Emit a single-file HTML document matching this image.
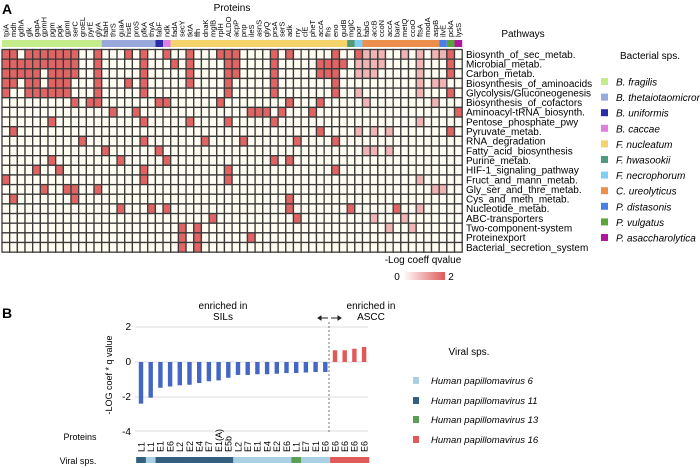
<!DOCTYPE html>
<html><head><meta charset="utf-8"><style>
html,body{margin:0;padding:0;background:#fff;}
svg{display:block;font-family:"Liberation Sans",Arial,sans-serif;}
</style></head><body>
<svg id="s" width="700" height="468" viewBox="0 0 700 468" xmlns="http://www.w3.org/2000/svg">
<defs><linearGradient id="g" x1="0" x2="1"><stop offset="0" stop-color="#fff"/><stop offset="1" stop-color="#e05a5a"/></linearGradient></defs>
<text x="2" y="14" font-size="14" font-weight="bold">A</text>
<text x="232" y="11" font-size="10" text-anchor="middle">Proteins</text>
<g id="collab" font-size="7.5"></g>
<g id="spbar"></g>
<g id="grid"></g>
<text x="523" y="37" font-size="10" text-anchor="middle">Pathways</text>
<g id="pw" font-size="10"></g>
<text x="650" y="59" font-size="10" text-anchor="middle">Bacterial sps.</text>
<g id="bleg" font-size="10" font-style="italic"></g>
<text x="423" y="263" font-size="10" text-anchor="middle">-Log coeff qvalue</text>
<text x="397" y="280" font-size="10" text-anchor="middle">0</text>
<rect x="403" y="272" width="42" height="8" fill="url(#g)"/>
<text x="451" y="280" font-size="10" text-anchor="middle">2</text>

<text x="2" y="318" font-size="14" font-weight="bold">B</text>
<text x="223" y="309" font-size="10" text-anchor="middle">enriched in</text>
<text x="223" y="320" font-size="10" text-anchor="middle">SILs</text>
<text x="371" y="309" font-size="10" text-anchor="middle">enriched in</text>
<text x="371" y="320" font-size="10" text-anchor="middle">ASCC</text>
<g stroke="#222" stroke-width="1" fill="#222">
<line x1="320" y1="318" x2="328" y2="318"/><path d="M318 318 l3 -2 v4z"/>
<line x1="331" y1="318" x2="339" y2="318"/><path d="M341 318 l-3 -2 v4z"/>
</g>
<g stroke="#dcdcdc" stroke-width="1">
<line x1="135" y1="327" x2="368" y2="327"/><line x1="135" y1="362" x2="368" y2="362"/>
<line x1="135" y1="397" x2="368" y2="397"/><line x1="135" y1="431" x2="368" y2="431"/>
</g>
<g font-size="10" text-anchor="end">
<text x="131" y="330">2</text><text x="131" y="365">0</text><text x="131" y="400">-2</text><text x="131" y="435">-4</text>
</g>
<text transform="translate(112,375) rotate(-90)" font-size="9" text-anchor="middle">-LOG coef * q value</text>
<line x1="329" y1="322" x2="329" y2="433" stroke="#555" stroke-width="0.8" stroke-dasharray="2,2"/>
<g id="bars"></g>
<g id="blab" font-size="9"></g>
<text x="80" y="440" font-size="9" text-anchor="middle">Proteins</text>
<text x="78" y="464" font-size="9" text-anchor="middle">Viral sps.</text>
<g id="vbar"></g>
<text x="469" y="355" font-size="10" text-anchor="middle">Viral sps.</text>
<g font-size="9.5" font-style="italic">
<rect x="413" y="377" width="6" height="7" fill="#a9d0e3"/><text x="431" y="384">Human papillomavirus 6</text>
<rect x="413" y="397" width="6" height="7" fill="#355f7e"/><text x="431" y="404">Human papillomavirus 11</text>
<rect x="413" y="416" width="6" height="7" fill="#5b9e55"/><text x="431" y="423">Human papillomavirus 13</text>
<rect x="413" y="436" width="6" height="7" fill="#e05a5a"/><text x="431" y="443">Human papillomavirus 16</text>
</g>
</svg>
<script>
var NS="http://www.w3.org/2000/svg";
function el(p,t,a,txt){var e=document.createElementNS(NS,t);for(var k in a)e.setAttribute(k,a[k]);if(txt!=null)e.textContent=txt;document.getElementById(p).appendChild(e);return e;}
var x0=2,cw=7.67,y0=49.5,rh=9.65,nc=60,nr=21;
var cols="tpiA mdh gdhA glk gapA gpmH pgm pgk gpmI serC groEL pyrE glyA fabH thrS guaA hisE proS pfkA thyA fabF ndk fadA secY tktA ffh dnaK mglB rplH ALDO acpP pnp ileS asnS glyQ prsA serS adk rry clE pheT accA fhs eno gudB mglC por fabG accB ccoN accA barA metQ ccoO ftsA modA aspB ilvE pckA lysS".split(" ");
cols.forEach(function(c,i){var cx=x0+cw*i+cw/2+2.5;el("collab","text",{transform:"translate("+cx+",37) rotate(-90)"},c);});
var sp=[[1,13,"#c4ec8a"],[14,20,"#99a9dc"],[21,21,"#2c2caa"],[22,22,"#e07fe0"],[23,45,"#f3d36a"],[46,46,"#4f9a7e"],[47,47,"#7fcff5"],[48,57,"#ec8f4c"],[58,58,"#4a7fe8"],[59,59,"#5ba43a"],[60,60,"#b0169e"]];
sp.forEach(function(s){el("spbar","rect",{x:x0+cw*(s[0]-1),y:40,width:cw*(s[1]-s[0]+1),height:7,fill:s[2]});});
var M=[
[1,2,4,5,6,7,8,9,10,13,17,19,22,25,29,30,31,36,38,44,47,-48,-49,-50,-53,-55,-57,-58,59],
[1,2,3,4,5,6,7,8,9,10,13,19,23,25,30,31,36,42,43,44,45,-47,-48,-49,-50,-55,59],
[1,2,3,4,5,7,8,9,10,13,19,25,30,31,36,42,43,44,-47,-48,-49,-55,59],
[1,2,4,5,7,8,9,13,17,19,25,30,36,44,-55,-57,-58],
[1,4,5,6,7,8,9,13,19,30,36,44,-47,-55,59],
[10,12,13,21,22,29,38,42,-48,-57],
[15,18,33,34,35,37,41,60],
[7,19,25,30,36,-55],
[2,42,-47,-49,-51,59],
[11,19,27,32,39,44],
[14,21,-48,-49,-51],
[7,16,22,36,38],
[5,8,19,30,44],
[1,19,30,-55],
[6,9,10,13,-57,-58],
[2,10,38],
[16,20,22,38,46,52,-55],
[28,39,-49,-53],
[24,26,-51,-54],
[24,26,33],
[24,26]];
for(var r=0;r<nr;r++)for(var c=0;c<nc;c++){
 var v=0;M[r].forEach(function(k){if(Math.abs(k)==c+1)v=k>0?2:1;});
 el("grid","rect",{x:x0+cw*c,y:y0+rh*r,width:cw,height:rh,fill:v==2?"#e06464":v==1?"#f0b4b4":"#fffdf2",stroke:"#3a3a3a","stroke-width":1.3});
}
var pw="Biosynth_of_sec_metab. Microbial_metab. Carbon_metab. Biosynthesis_of_aminoacids Glycolysis/Gluconeogenesis Biosynthesis_of_cofactors Aminoacyl-tRNA_biosynth. Pentose_phosphate_pwy Pyruvate_metab. RNA_degradation Fatty_acid_biosynthesis Purine_metab. HIF-1_signaling_pathway Fruct_and_mann_metab. Gly_ser_and_thre_metab. Cys_and_meth_metab. Nucleotide_metab. ABC-transporters Two-component-system Proteinexport Bacterial_secretion_system".split(" ");
pw.forEach(function(p,i){el("pw","text",{x:466,y:y0+rh*i+rh/2+3.5},p);});
var bl=[["#c4ec8a","B. fragilis"],["#99a9dc","B. thetaiotaomicron"],["#2c2caa","B. uniformis"],["#e07fe0","B. caccae"],["#f3d36a","F. nucleatum"],["#4f9a7e","F. hwasookii"],["#7fcff5","F. necrophorum"],["#ec8f4c","C. ureolyticus"],["#4a7fe8","P. distasonis"],["#5ba43a","P. vulgatus"],["#b0169e","P. asaccharolytica"]];
bl.forEach(function(b,i){var y=82+i*15.6;el("bleg","rect",{x:601,y:y-4,width:7,height:7,fill:b[0]});el("bleg","text",{x:616,y:y+3.5},b[1]);});
var vals=[-2.38,-2.04,-1.47,-1.4,-1.33,-1.3,-1.2,-1.1,-1.05,-0.9,-0.74,-0.74,-0.7,-0.7,-0.67,-0.63,-0.63,-0.6,-0.57,-0.57,0.67,0.67,0.76,0.86];
var labs="L1 L1 E1 E6 L2 E2 E4 E7 E1(A) E5b L2 E7 E1 E4 E2 E6 L1 E7 E1 E6 E6 E6 E6 E6".split(" ");
var vc=["#355f7e","#a9d0e3","#355f7e","#355f7e","#355f7e","#355f7e","#355f7e","#355f7e","#355f7e","#355f7e","#a9d0e3","#a9d0e3","#a9d0e3","#a9d0e3","#a9d0e3","#a9d0e3","#5b9e55","#a9d0e3","#a9d0e3","#a9d0e3","#e05a5a","#e05a5a","#e05a5a","#e05a5a"];
var sc=17.5,z=362,bw=9.7;
vals.forEach(function(v,i){var cx=141+bw*i;var h=Math.abs(v)*sc;
 el("bars","rect",{x:cx-2.2,y:v<0?z:z-h,width:4.4,height:h,fill:v<0?"#4466c4":"#e05a5a"});
 el("blab","text",{transform:"translate("+(cx+3.3)+",452) rotate(-90)"},labs[i]);
 el("vbar","rect",{x:cx-bw/2,y:457,width:bw+0.3,height:6,fill:vc[i]});
});
</script>
</body></html>
